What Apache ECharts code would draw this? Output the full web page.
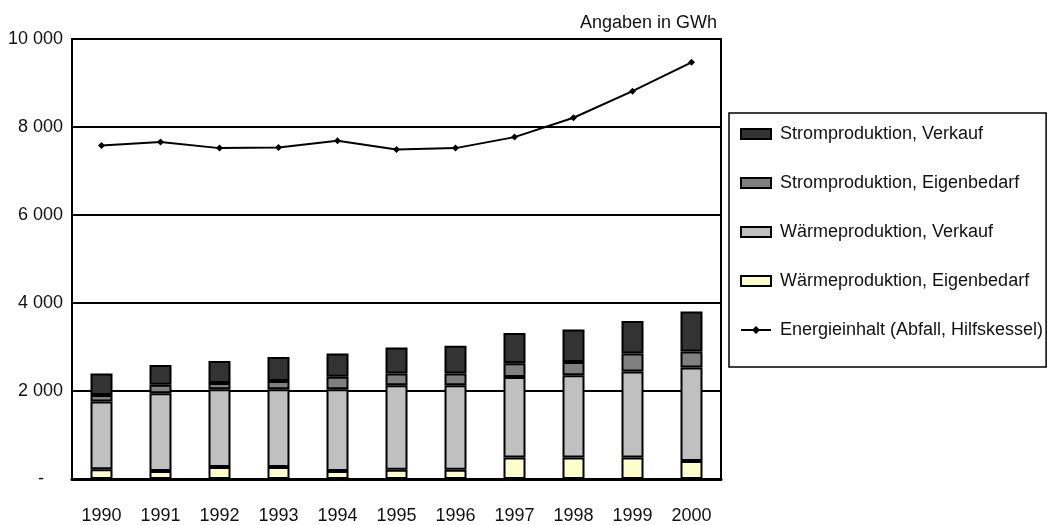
<!DOCTYPE html>
<html>
<head>
<meta charset="utf-8">
<title>Energieproduktion</title>
<script src="https://cdn.jsdelivr.net/npm/echarts@6/dist/echarts.min.js"></script>
<style>
  html, body { margin: 0; padding: 0; background: #fff; }
  #chart { width: 1049px; height: 525px; }
</style>
</head>
<body>
<div id="chart"></div>
<script>
// Jahre
const years = ['1990', '1991', '1992', '1993', '1994', '1995', '1996', '1997', '1998', '1999', '2000'];

// Produktion in GWh, gestapelt von unten nach oben
const waermeEigenbedarf = [220, 180, 270, 270, 180, 210, 210, 490, 490, 490, 410];
const waermeVerkauf     = [1540, 1770, 1770, 1770, 1860, 1920, 1920, 1830, 1870, 1955, 2125];
const stromEigenbedarf  = [150, 190, 140, 190, 285, 270, 270, 310, 300, 410, 365];
const stromVerkauf      = [490, 450, 500, 540, 530, 590, 630, 690, 740, 735, 905];

// Energieinhalt (Abfall, Hilfskessel) in GWh
const energieinhalt = [7580, 7660, 7520, 7535, 7690, 7490, 7520, 7770, 8210, 8815, 9470];

// Achsenbeschriftung
const yTicks = [0, 2000, 4000, 6000, 8000, 10000];

const names = {
  we: 'Wärmeproduktion, Eigenbedarf',
  wv: 'Wärmeproduktion, Verkauf',
  se: 'Stromproduktion, Eigenbedarf',
  sv: 'Stromproduktion, Verkauf',
  ei: 'Energieinhalt (Abfall, Hilfskessel)'
};

const FONT = "'Liberation Sans', Arial, sans-serif";

function fmt(v) {
  if (v === 0) return '{dash|-}';
  return String(v).replace(/\B(?=(\d{3})+(?!\d))/g, ' ');
}

function barSeries(name, data, color) {
  return {
    name: name,
    type: 'bar',
    stack: 'prod',
    data: data,
    barWidth: 22,
    itemStyle: { color: color, borderColor: '#000', borderWidth: 2 },
    emphasis: { disabled: true }
  };
}

const chart = echarts.init(document.getElementById('chart'), null, { renderer: 'canvas' });

chart.setOption({
  animation: false,
  backgroundColor: '#fff',
  textStyle: { fontFamily: FONT, color: '#000' },
  title: {
    text: 'Angaben in GWh',
    right: 327,
    top: 9,
    textStyle: { fontFamily: FONT, fontSize: 18, fontWeight: 'normal', color: '#111' }
  },
  grid: {
    left: 72, right: 328, top: 39, bottom: 46,
    show: true, borderColor: '#000', borderWidth: 2, backgroundColor: 'transparent'
  },
  legend: {
    orient: 'vertical',
    left: 729,
    top: 113,
    data: [
      { name: names.sv, icon: 'rect' },
      { name: names.se, icon: 'rect' },
      { name: names.wv, icon: 'rect' },
      { name: names.we, icon: 'rect' },
      { name: names.ei }
    ],
    itemWidth: 30,
    itemHeight: 10,
    itemGap: 31,
    padding: [12, 3, 28, 11],
    borderColor: '#000',
    borderWidth: 1.5,
    selectedMode: false,
    textStyle: { fontFamily: FONT, fontSize: 18, color: '#111', padding: [0, 0, 0, 4] }
  },
  xAxis: {
    type: 'category',
    data: years,
    boundaryGap: true,
    axisLine: { lineStyle: { color: '#000', width: 3 } },
    axisTick: { show: false },
    axisLabel: { fontFamily: FONT, fontSize: 18, color: '#111', margin: 28 }
  },
  yAxis: {
    type: 'value',
    min: yTicks[0],
    max: yTicks[yTicks.length - 1],
    interval: yTicks[1] - yTicks[0],
    axisLine: { show: true, lineStyle: { color: '#000', width: 2 } },
    axisTick: { show: false },
    splitLine: { lineStyle: { color: '#000', width: 2 } },
    axisLabel: {
      fontFamily: FONT, fontSize: 18, color: '#111', margin: 9,
      formatter: fmt,
      rich: { dash: { fontFamily: FONT, fontSize: 18, color: '#111', padding: [0, 19, 0, 0] } }
    }
  },
  series: [
    barSeries(names.we, waermeEigenbedarf, '#ffffcc'),
    barSeries(names.wv, waermeVerkauf, '#c0c0c0'),
    barSeries(names.se, stromEigenbedarf, '#808080'),
    barSeries(names.sv, stromVerkauf, '#333333'),
    {
      name: names.ei,
      type: 'line',
      data: energieinhalt,
      symbol: 'diamond',
      symbolSize: 7,
      lineStyle: { color: '#000', width: 2 },
      itemStyle: { color: '#000' },
      emphasis: { disabled: true },
      z: 5
    }
  ]
});
</script>
</body>
</html>
